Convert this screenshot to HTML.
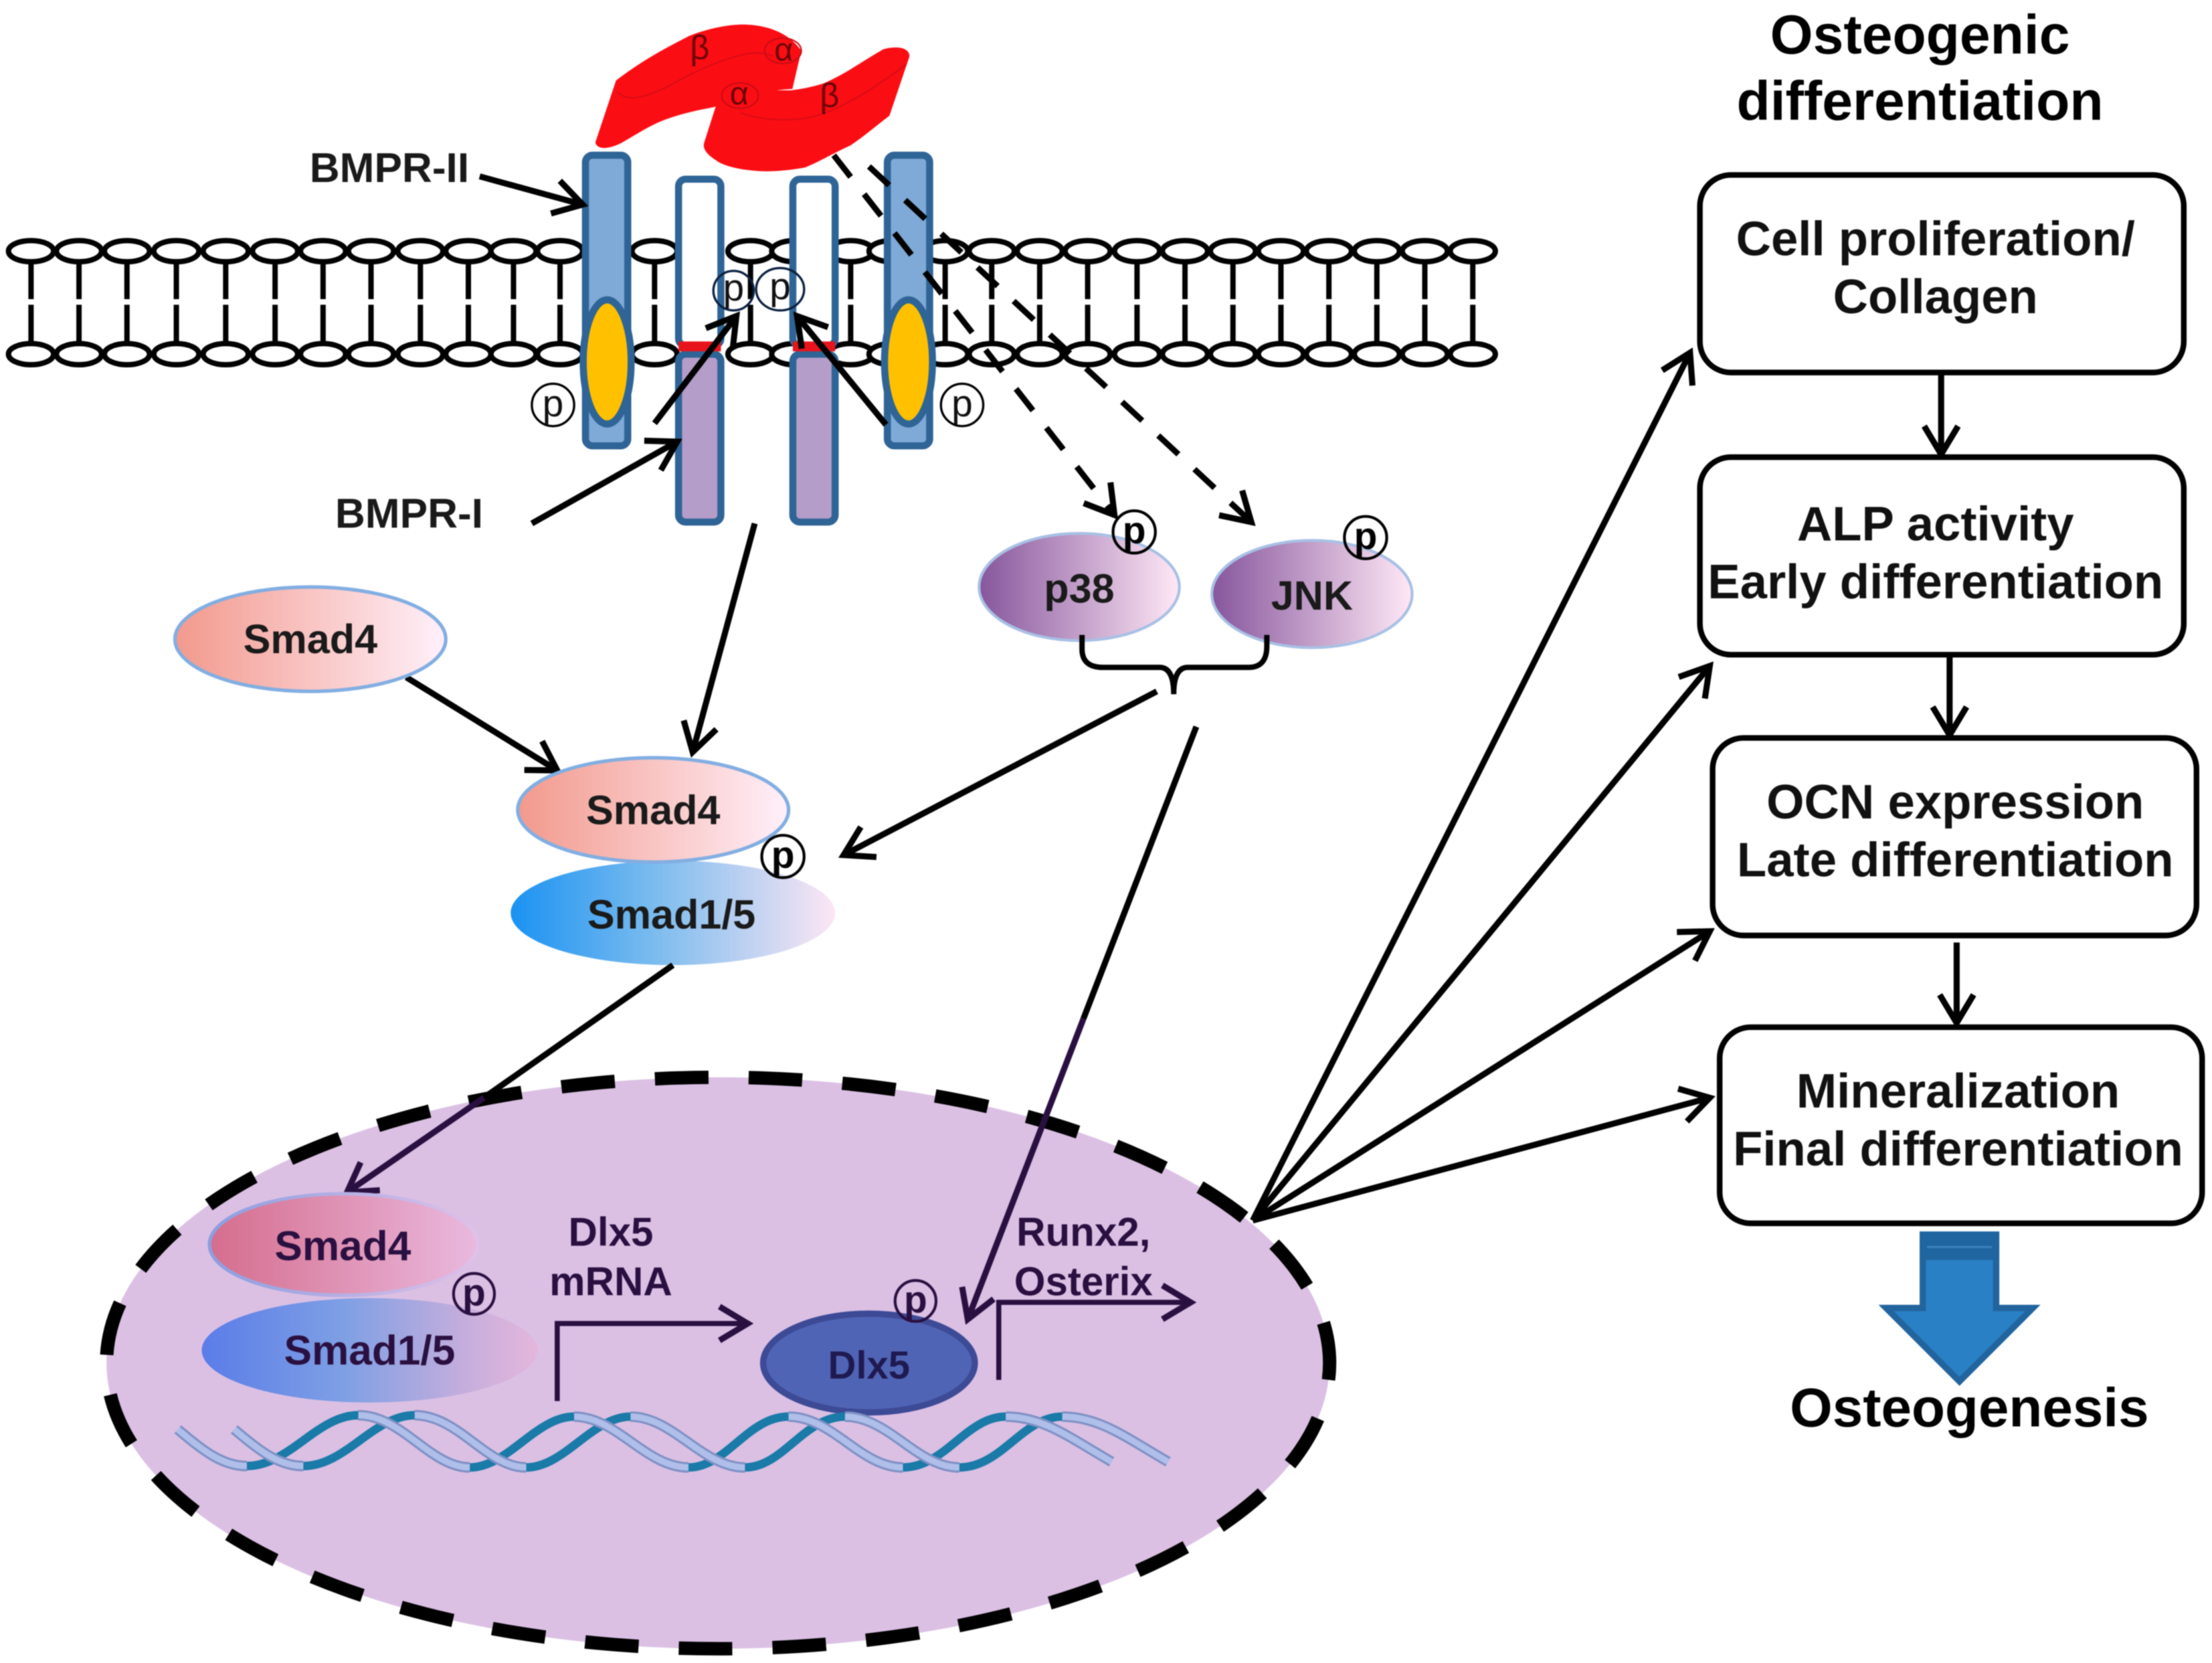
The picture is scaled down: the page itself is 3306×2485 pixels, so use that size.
<!DOCTYPE html>
<html>
<head>
<meta charset="utf-8">
<style>
html,body{margin:0;padding:0;background:#fff}
svg{display:block;filter:blur(0.9px)}
text{font-family:"Liberation Sans",sans-serif;text-anchor:middle}
.b{font-weight:bold}
</style>
</head>
<body>
<svg xmlns="http://www.w3.org/2000/svg" width="3306" height="2485" viewBox="0 0 1568 1178.6">
<defs>
<marker id="h" markerUnits="userSpaceOnUse" markerWidth="34" markerHeight="34" refX="26" refY="17" orient="auto">
<path d="M6,5 L26,17 L6,29" fill="none" stroke="#000" stroke-width="4.3"/>
</marker>
<marker id="d" markerUnits="userSpaceOnUse" markerWidth="34" markerHeight="34" refX="26" refY="17" orient="auto">
<path d="M6,5 L26,17 L6,29" fill="none" stroke="#2a1040" stroke-width="4.3"/>
</marker>
<linearGradient id="gs4"><stop offset="0" stop-color="#f2998c"/><stop offset="1" stop-color="#fff0fa"/></linearGradient>
<linearGradient id="gs15"><stop offset="0" stop-color="#1a92f2"/><stop offset="0.45" stop-color="#7dbcee"/><stop offset="1" stop-color="#fde6f4"/></linearGradient>
<linearGradient id="gp"><stop offset="0" stop-color="#86569c"/><stop offset="1" stop-color="#ffe8f6"/></linearGradient>
<linearGradient id="gn4"><stop offset="0" stop-color="#d56d8d"/><stop offset="1" stop-color="#e9b9de"/></linearGradient>
<linearGradient id="gn4s"><stop offset="0" stop-color="#8a9ee0"/><stop offset="1" stop-color="#e0c0e8"/></linearGradient>
<linearGradient id="gn15"><stop offset="0" stop-color="#5a7ce8"/><stop offset="0.42" stop-color="#7e9fe4"/><stop offset="0.8" stop-color="#c8aedc"/><stop offset="1" stop-color="#e4b6dc"/></linearGradient>
<g id="l" stroke="#000" stroke-width="3.8">
<line x1="0" y1="186" x2="0" y2="212"/><line x1="0" y1="216" x2="0" y2="243"/>
<ellipse cx="0" cy="178" rx="16" ry="7.5" fill="#fff"/><ellipse cx="0" cy="251" rx="16" ry="7.5" fill="#fff"/>
</g>
<g id="dna" fill="none">
<g stroke="#1a7aa8" stroke-width="6">
<path d="M175,1039 C205,1039 225,1003 254,1003"/>
<path d="M333,1040 C360,1040 380,1004 407,1004"/>
<path d="M488,1040 C515,1040 530,1004 559,1004"/>
<path d="M640,1040 C670,1040 685,1004 713,1004"/>
</g>
</g>
<path id="dp" fill="none" d="M126,1013 C145,1029 158,1039 175,1039 M254,1003 C285,1003 305,1040 333,1040 M407,1004 C437,1004 458,1040 488,1040 M559,1004 C590,1004 610,1040 640,1040 M713,1004 C740,1004 760,1020 788,1036"/>
</defs>

<rect width="1568" height="1178.6" fill="#fff"/>

<!-- membrane -->
<use href="#l" x="22"/><use href="#l" x="56"/><use href="#l" x="90"/><use href="#l" x="125"/><use href="#l" x="160"/><use href="#l" x="195"/><use href="#l" x="229"/><use href="#l" x="263"/><use href="#l" x="298"/><use href="#l" x="332"/><use href="#l" x="364"/><use href="#l" x="397"/><use href="#l" x="464"/><use href="#l" x="532"/><use href="#l" x="563"/><use href="#l" x="603"/><use href="#l" x="632"/><use href="#l" x="670"/><use href="#l" x="703"/><use href="#l" x="737"/><use href="#l" x="771"/><use href="#l" x="806"/><use href="#l" x="840"/><use href="#l" x="874"/><use href="#l" x="908"/><use href="#l" x="942"/><use href="#l" x="976"/><use href="#l" x="1010"/><use href="#l" x="1044"/>

<!-- receptors -->
<g stroke="#2f6496" stroke-width="5">
<rect x="415" y="110" width="30" height="206" rx="5" fill="#7fa9d6"/>
<rect x="629" y="110" width="30" height="206" rx="5" fill="#7fa9d6"/>
<rect x="481" y="127" width="30" height="118" rx="5" fill="#fff"/>
<rect x="562" y="127" width="30" height="118" rx="5" fill="#fff"/>
<rect x="481" y="251" width="30" height="119" rx="5" fill="#b59dc9"/>
<rect x="562" y="251" width="30" height="119" rx="5" fill="#b59dc9"/>
<ellipse cx="430.4" cy="256.5" rx="17" ry="44" fill="#ffc000"/>
<ellipse cx="644" cy="256.5" rx="17" ry="44" fill="#ffc000"/>
</g>
<rect x="481" y="242" width="30" height="7" fill="#e8141c"/>
<rect x="562" y="242" width="30" height="7" fill="#e8141c"/>

<!-- ligand -->
<path d="M422,101 L436.7,57 C455,43 470,35 488.6,25.4 C505,19 520,17 529,17.4 C545,18 560,24 568,36 L561.7,63 C540,64 525,70 505.6,76 C495,78 485,80 471.7,84.7 C460,89 450,96 442,100.4 C436,104 424,108 422,101 Z" fill="#fb0d14"/>
<path d="M499,101.6 L509.8,67.8 C512,62 515,59 518,59.3 L537,64 L560.6,64 C570,63 578,61 584,59 C600,52 612,43 626,35 C632,33 640,33 643,36 C645,38 645,40 644,42 L630.5,82 C620,90 612,97 603,103 C590,109 582,114 571,118.6 C558,121 545,122 535,121 C522,120 512,117 507.7,113.7 C502,110 498,106 499,101.6 Z" fill="#fb0d14"/>
<path d="M437,65 C445,72 455,70 472,62 C490,52 510,42 530,38 C540,37 545,38 548,40" fill="none" stroke="#d80c14" stroke-width="1"/>
<path d="M525,80 C545,87 570,86 585,80 C605,72 620,62 642,46" fill="none" stroke="#d80c14" stroke-width="1"/>
<ellipse cx="555" cy="36" rx="13" ry="9" fill="none" stroke="#c80c14" stroke-width="1"/>
<ellipse cx="524.6" cy="67.8" rx="13" ry="9" fill="none" stroke="#c80c14" stroke-width="1"/>
<text x="496" y="42" font-size="24" fill="#6a0408">β</text>
<text x="555.5" y="43" font-size="23" fill="#6a0408">α</text>
<text x="524" y="74" font-size="23" fill="#6a0408">α</text>
<text x="588" y="76" font-size="24" fill="#6a0408">β</text>

<!-- dashed -->
<g stroke="#000" stroke-width="4.2" fill="none" stroke-dasharray="19.5 15.5">
<line x1="591" y1="110" x2="790" y2="365" marker-end="url(#h)"/>
<line x1="616" y1="118" x2="887" y2="370" marker-end="url(#h)"/>
</g>

<!-- p in membrane -->
<g fill="none" stroke="#000" stroke-width="1.6">
<circle cx="392" cy="287" r="15"/><circle cx="682" cy="287" r="15"/>
</g>
<ellipse cx="520" cy="206" rx="14.3" ry="14" fill="none" stroke="#0a2040" stroke-width="1.6"/>
<ellipse cx="553" cy="205" rx="17" ry="15" fill="none" stroke="#0a2040" stroke-width="1.6"/>
<g font-size="27" fill="#111">
<text x="392" y="295">p</text><text x="682" y="295">p</text>
<text x="520" y="213">p</text><text x="553" y="212">p</text>
</g>

<!-- membrane arrows -->
<g stroke="#000" stroke-width="4.3" fill="none">
<line x1="340" y1="125" x2="413" y2="145" marker-end="url(#h)"/>
<line x1="377" y1="371" x2="480" y2="313" marker-end="url(#h)"/>
<line x1="464" y1="300" x2="522" y2="224" marker-end="url(#h)"/>
<line x1="628" y1="301" x2="565" y2="224" marker-end="url(#h)"/>
<line x1="535" y1="371" x2="491" y2="533" marker-end="url(#h)"/>
<line x1="288" y1="480" x2="395" y2="546" marker-end="url(#h)"/>
</g>
<text x="276" y="129" font-size="29.5" class="b" fill="#1a1a1a">BMPR-II</text>
<text x="290" y="374" font-size="29.5" class="b" fill="#1a1a1a">BMPR-I</text>

<!-- nucleus -->
<ellipse cx="509" cy="966" rx="433.5" ry="202.5" fill="#dbc0e4" stroke="#000" stroke-width="9.5" stroke-dasharray="38 28.5" stroke-dashoffset="26"/>

<!-- smads -->
<ellipse cx="220" cy="453" rx="96" ry="37" fill="url(#gs4)" stroke="#82aee2" stroke-width="2.5"/>
<text x="220" y="463" font-size="29" class="b" fill="#1a1a1a">Smad4</text>
<ellipse cx="477" cy="647" rx="115" ry="37" fill="url(#gs15)"/>
<ellipse cx="463" cy="574" rx="96" ry="37" fill="url(#gs4)" stroke="#82aee2" stroke-width="2.5"/>
<text x="463" y="584" font-size="29" class="b" fill="#1a1a1a">Smad4</text>
<text x="476" y="658" font-size="29" class="b" fill="#1a1a1a">Smad1/5</text>
<circle cx="555" cy="607" r="15" fill="none" stroke="#000" stroke-width="2"/>
<text x="555" y="615" font-size="27" class="b">p</text>

<!-- p38 JNK -->
<ellipse cx="765" cy="416" rx="71" ry="38" fill="url(#gp)" stroke="#a8c0e4" stroke-width="2"/>
<ellipse cx="930" cy="421" rx="71" ry="38" fill="url(#gp)" stroke="#a8c0e4" stroke-width="2"/>
<text x="765" y="427" font-size="29" class="b" fill="#1a1a1a">p38</text>
<text x="930" y="432" font-size="29" class="b" fill="#1a1a1a">JNK</text>
<circle cx="804" cy="377" r="15" fill="none" stroke="#000" stroke-width="2"/>
<circle cx="968" cy="381" r="15" fill="none" stroke="#000" stroke-width="2"/>
<text x="804" y="385" font-size="27" class="b">p</text>
<text x="968" y="389" font-size="27" class="b">p</text>
<path d="M767,450 L767,460 Q767,473 782,473 L822,473 Q832,473 832,492 Q832,473 842,473 L885,473 Q898,473 898,458 L898,450" fill="none" stroke="#000" stroke-width="3.8"/>
<line x1="820" y1="490" x2="598" y2="606" stroke="#000" stroke-width="4.3" marker-end="url(#h)"/>

<!-- pathway arrows to nucleus -->
<line x1="477" y1="684" x2="343" y2="778" stroke="#000" stroke-width="4.3"/>
<line x1="343" y1="778" x2="246" y2="845" stroke="#2a1040" stroke-width="4.3" marker-end="url(#d)"/>
<line x1="848" y1="515" x2="768" y2="722" stroke="#000" stroke-width="4.3"/>
<line x1="768" y1="722" x2="686" y2="935" stroke="#2a1040" stroke-width="4.3" marker-end="url(#d)"/>

<!-- nuclear items -->
<ellipse cx="262" cy="957" rx="119" ry="37" fill="url(#gn15)"/>
<ellipse cx="243.5" cy="882" rx="95" ry="36" fill="url(#gn4)" stroke="url(#gn4s)" stroke-width="2.5"/>
<text x="243" y="893" font-size="29.5" class="b" fill="#2a1040">Smad4</text>
<text x="262" y="967" font-size="29.5" class="b" fill="#2a1040">Smad1/5</text>
<circle cx="336" cy="917" r="14.5" fill="none" stroke="#2a1040" stroke-width="2"/>
<text x="336" y="925" font-size="27" class="b" fill="#2a1040">p</text>
<ellipse cx="616" cy="966" rx="75" ry="35" fill="#5064b6" stroke="#3d4a96" stroke-width="4.5"/>
<text x="616" y="977" font-size="27.5" class="b" fill="#1e1a50">Dlx5</text>
<circle cx="649" cy="922" r="14.5" fill="none" stroke="#2a1040" stroke-width="2"/>
<text x="649" y="930" font-size="27" class="b" fill="#2a1040">p</text>

<path d="M395,993 L395,938 L530,938" fill="none" stroke="#2a1040" stroke-width="3.6" marker-end="url(#d)"/>
<path d="M708,978 L708,923 L844,923" fill="none" stroke="#2a1040" stroke-width="3.6" marker-end="url(#d)"/>
<g font-size="28.5" class="b" fill="#2a1040">
<text x="433" y="883">Dlx5</text>
<text x="433" y="918">mRNA</text>
<text x="768" y="883">Runx2,</text>
<text x="768" y="918">Osterix</text>
</g>

<!-- DNA -->
<use href="#dna"/>
<use href="#dna" x="40"/>
<use href="#dp" stroke="#7f90c4" stroke-width="7.5"/>
<use href="#dp" stroke="#afbfea" stroke-width="4.5"/>
<use href="#dp" x="40" stroke="#7f90c4" stroke-width="7.5"/>
<use href="#dp" x="40" stroke="#afbfea" stroke-width="4.5"/>

<!-- arrows to boxes -->
<g stroke="#000" stroke-width="4.3" fill="none">
<line x1="888" y1="865" x2="1198" y2="250" marker-end="url(#h)"/>
<line x1="888" y1="865" x2="1212" y2="472" marker-end="url(#h)"/>
<line x1="888" y1="865" x2="1212" y2="660" marker-end="url(#h)"/>
<line x1="888" y1="865" x2="1212" y2="778" marker-end="url(#h)"/>
</g>

<!-- titles -->
<text x="1361" y="38" font-size="39" class="b">Osteogenic</text>
<text x="1361" y="85" font-size="39" class="b">differentiation</text>

<!-- boxes -->
<g fill="#fff" stroke="#000" stroke-width="4">
<rect x="1205" y="124" width="343" height="140" rx="22"/>
<rect x="1205" y="324" width="343" height="140" rx="22"/>
<rect x="1214" y="523" width="343" height="140" rx="22"/>
<rect x="1219" y="728" width="342" height="139" rx="22"/>
</g>
<g font-size="34.4" class="b" fill="#111">
<text x="1372" y="181">Cell proliferation/</text>
<text x="1372" y="222">Collagen</text>
<text x="1372" y="383">ALP activity</text>
<text x="1372" y="424">Early differentiation</text>
<text x="1386" y="580">OCN expression</text>
<text x="1386" y="621">Late differentiation</text>
<text x="1388" y="785">Mineralization</text>
<text x="1388" y="826">Final differentiation</text>
</g>
<g stroke="#000" stroke-width="4.3" fill="none">
<line x1="1376" y1="264" x2="1376" y2="322" marker-end="url(#h)"/>
<line x1="1382" y1="464" x2="1382" y2="521" marker-end="url(#h)"/>
<line x1="1387" y1="668" x2="1387" y2="725" marker-end="url(#h)"/>
</g>

<!-- big arrow -->
<path d="M1363,875 L1415,875 L1415,927 L1441,927 L1389,979 L1337,927 L1363,927 Z" fill="#2a80c4" stroke="#22649e" stroke-width="4.5"/>
<rect x="1361" y="873" width="56" height="20" fill="#1f659f"/>
<rect x="1366" y="883" width="46" height="1.6" fill="#3a80b8"/>
<text x="1396" y="1011" font-size="38.8" class="b">Osteogenesis</text>
</svg>
</body>
</html>
